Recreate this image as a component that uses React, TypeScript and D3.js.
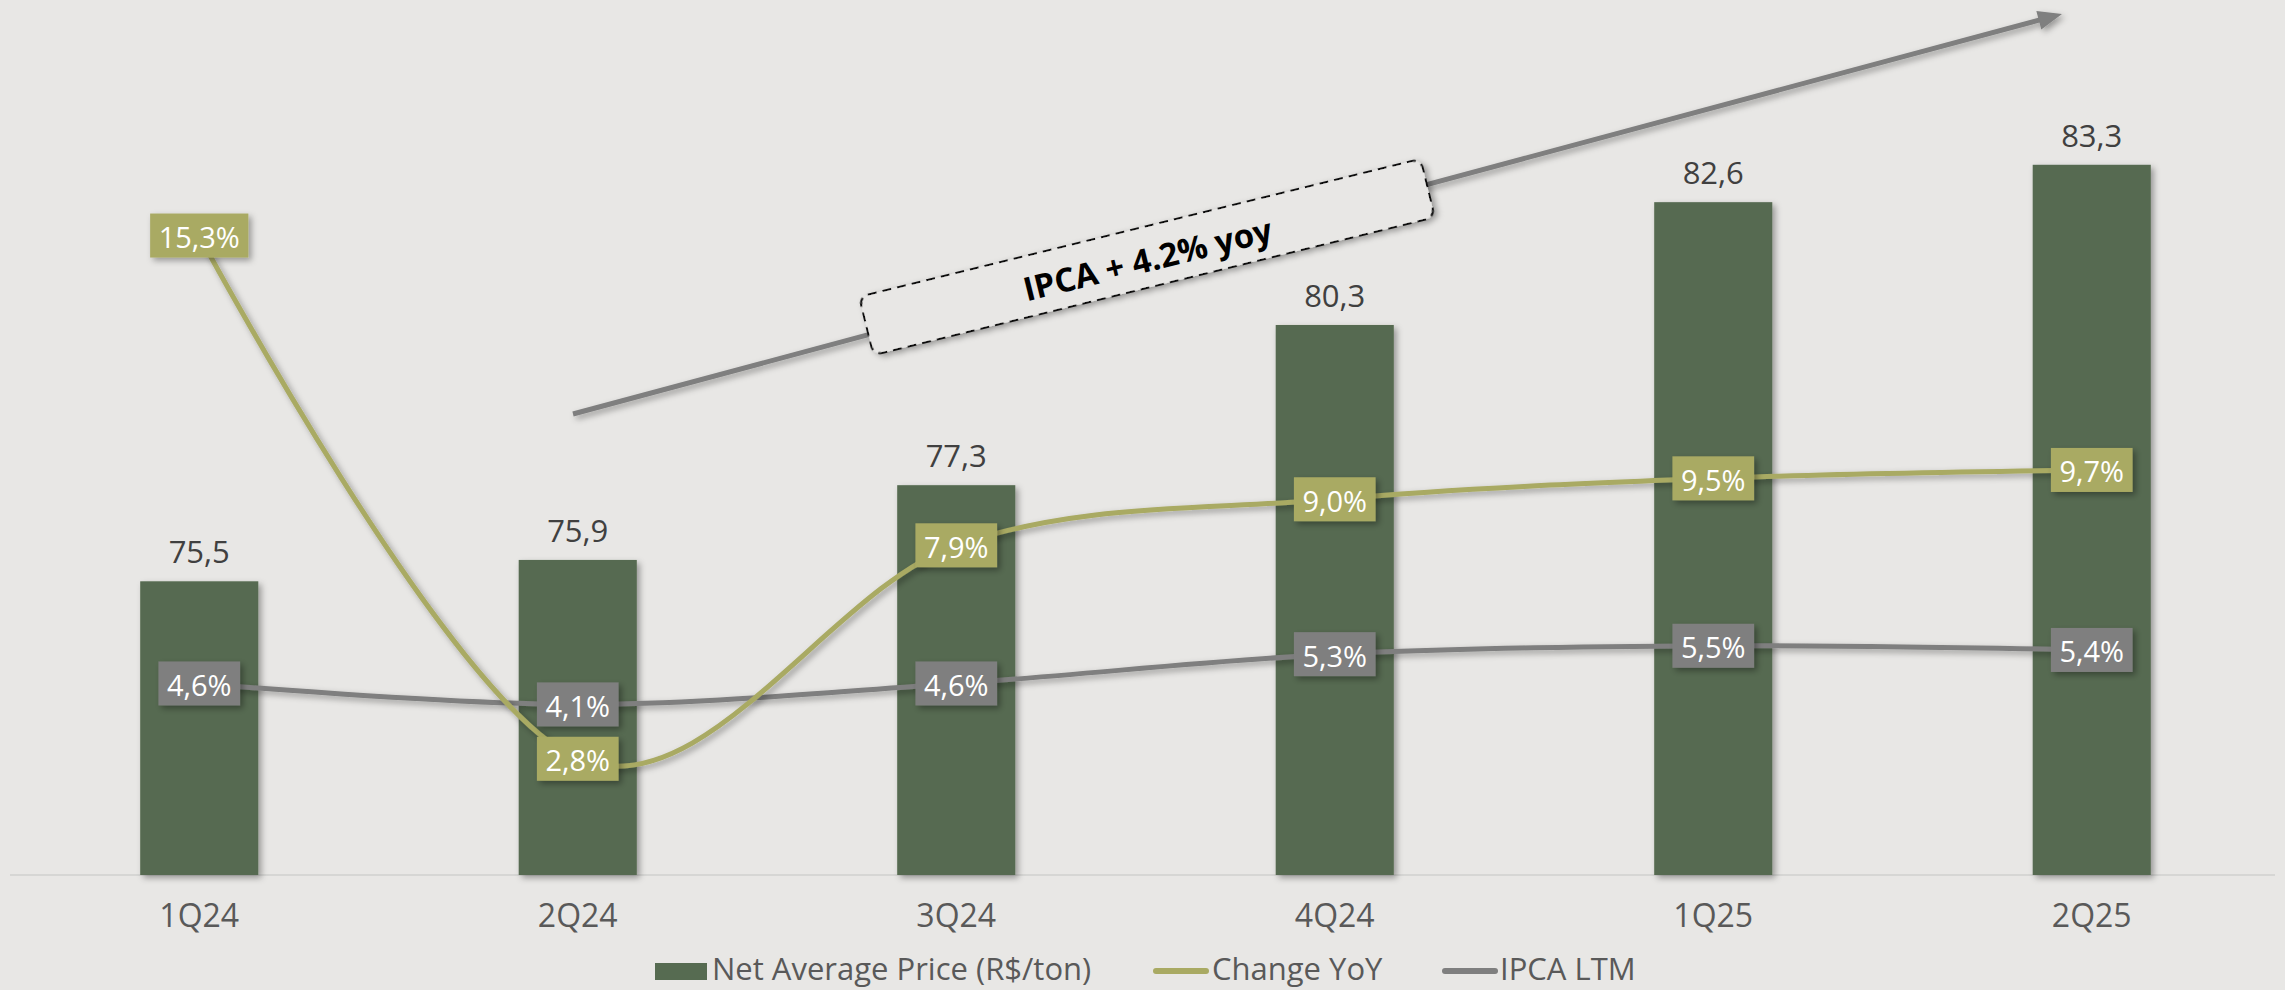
import React, { useEffect, useRef } from "react";
import * as d3 from "d3";

const categories = ["1Q24", "2Q24", "3Q24", "4Q24", "1Q25", "2Q25"];
const netAvgPrice = [75.5, 75.9, 77.3, 80.3, 82.6, 83.3];
const changeYoY = [15.3, 2.8, 7.9, 9.0, 9.5, 9.7];
const ipcaLTM = [4.6, 4.1, 4.6, 5.3, 5.5, 5.4];
const legendLabels = ["Net Average Price (R$/ton)", "Change YoY", "IPCA LTM"];
const annotationText = "IPCA + 4.2% yoy";

const W = 2285;
const H = 990;
const BG = "#E8E7E5";
const BAR = "#566B51";
const OLIVE = "#A9AA63";
const GRAY = "#7F7F7F";
const FONT = "'Open Sans', sans-serif";

const fmt1 = (v: number) => v.toFixed(1).replace(".", ",");

export default function App() {
  const ref = useRef<SVGSVGElement | null>(null);

  useEffect(() => {
    const svg = d3.select(ref.current);
    svg.selectAll("*").remove();

    const defs = svg.append("defs");
    const f = defs
      .append("filter")
      .attr("id", "sh")
      .attr("x", "-20%")
      .attr("y", "-20%")
      .attr("width", "140%")
      .attr("height", "140%");
    f.append("feDropShadow")
      .attr("dx", 3)
      .attr("dy", 3)
      .attr("stdDeviation", 3)
      .attr("flood-color", "#000")
      .attr("flood-opacity", 0.35);

    svg.append("rect").attr("width", W).attr("height", H).attr("fill", BG);

    const baseline = 875;
    const x = d3
      .scaleBand<string>()
      .domain(categories)
      .range([10, 2281])
      .paddingInner(0.688)
      .paddingOuter(0.344);
    const cx = (c: string) => (x(c) as number) + x.bandwidth() / 2;
    const yBar = d3.scaleLinear().domain([70, 86]).range([baseline, baseline - 16 * 53.4]);
    const yPct = d3.scaleLinear().domain([0, 20]).range([876, 876 - 20 * 41.86]);

    // axis line
    svg
      .append("line")
      .attr("x1", 10)
      .attr("x2", 2275)
      .attr("y1", baseline)
      .attr("y2", baseline)
      .attr("stroke", "#D6D6D4")
      .attr("stroke-width", 2);

    // bars
    svg
      .append("g")
      .selectAll("rect")
      .data(netAvgPrice)
      .join("rect")
      .attr("x", (_, i) => x(categories[i]) as number)
      .attr("width", x.bandwidth())
      .attr("y", (d) => yBar(d))
      .attr("height", (d) => baseline - yBar(d))
      .attr("fill", BAR)
      .attr("filter", "url(#sh)");

    // bar value labels
    svg
      .append("g")
      .selectAll("text")
      .data(netAvgPrice)
      .join("text")
      .attr("x", (_, i) => cx(categories[i]))
      .attr("y", (d) => yBar(d) - 18)
      .attr("text-anchor", "middle")
      .attr("font-family", FONT)
      .attr("font-size", 31)
      .attr("fill", "#404040")
      .text((d) => fmt1(d));

    // category labels
    svg
      .append("g")
      .selectAll("text")
      .data(categories)
      .join("text")
      .attr("x", (d) => cx(d))
      .attr("y", 927)
      .attr("text-anchor", "middle")
      .attr("font-family", FONT)
      .attr("font-size", 32)
      .attr("fill", "#595959")
      .text((d) => d);

    // arrow annotation
    const a0 = [573, 414];
    const a1 = [2062, 14];
    const dx = a1[0] - a0[0];
    const dy = a1[1] - a0[1];
    const len = Math.hypot(dx, dy);
    const ux = dx / len;
    const uy = dy / len;
    const nx = -uy;
    const ny = ux;
    const hl = 24;
    const hw = 9.5;
    const bx = a1[0] - hl * ux;
    const by = a1[1] - hl * uy;
    const ag = svg.append("g").attr("filter", "url(#sh)");
    ag.append("line")
      .attr("x1", a0[0])
      .attr("y1", a0[1])
      .attr("x2", bx + 2 * ux)
      .attr("y2", by + 2 * uy)
      .attr("stroke", GRAY)
      .attr("stroke-width", 5);
    ag.append("polygon")
      .attr(
        "points",
        [
          [a1[0], a1[1]],
          [bx + hw * nx, by + hw * ny],
          [bx - hw * nx, by - hw * ny],
        ]
          .map((p) => p.join(","))
          .join(" ")
      )
      .attr("fill", GRAY);

    // dashed callout
    const cg = svg.append("g").attr("transform", "translate(1147,257) rotate(-13.8)");
    cg.append("rect")
      .attr("x", -289)
      .attr("y", -30)
      .attr("width", 578)
      .attr("height", 60)
      .attr("rx", 9)
      .attr("fill", BG)
      .attr("stroke", "#111")
      .attr("stroke-width", 2)
      .attr("stroke-dasharray", "9 6")
      .attr("filter", "url(#sh)");
    cg.append("text")
      .attr("x", 0)
      .attr("y", 2)
      .attr("text-anchor", "middle")
      .attr("dominant-baseline", "central")
      .attr("font-family", FONT)
      .attr("font-weight", 700)
      .attr("font-size", 33)
      .attr("fill", "#000")
      .text(annotationText);

    // lines
    const line = d3
      .line<number>()
      .x((_, i) => cx(categories[i]))
      .y((d) => yPct(d))
      .curve(d3.curveCatmullRom.alpha(0));

    const series = [
      { data: ipcaLTM, color: GRAY },
      { data: changeYoY, color: OLIVE },
    ];
    series.forEach((s) => {
      svg
        .append("path")
        .datum(s.data)
        .attr("d", line)
        .attr("fill", "none")
        .attr("stroke", s.color)
        .attr("stroke-width", 5)
        .attr("filter", "url(#sh)");
    });

    // label boxes
    series.forEach((s) => {
      const g = svg.append("g");
      s.data.forEach((v, i) => {
        const px = cx(categories[i]);
        const py = yPct(v);
        const lg = g.append("g");
        const r = lg.append("rect").attr("fill", s.color).attr("filter", "url(#sh)");
        const t = lg
          .append("text")
          .attr("x", px)
          .attr("y", py + 1)
          .attr("text-anchor", "middle")
          .attr("dominant-baseline", "central")
          .attr("font-family", FONT)
          .attr("font-size", 29)
          .attr("fill", "#fff")
          .text(fmt1(v) + "%");
        const tw = (t.node() as SVGTextElement).getComputedTextLength();
        const bw = tw + 17;
        r.attr("x", px - bw / 2)
          .attr("y", py - 22)
          .attr("width", bw)
          .attr("height", 44);
      });
    });

    // legend
    const lgd = svg.append("g").attr("font-family", FONT).attr("font-size", 31).attr("fill", "#595959");
    lgd.append("rect").attr("x", 655).attr("y", 963).attr("width", 52).attr("height", 17).attr("fill", BAR);
    lgd.append("text").attr("x", 712).attr("y", 980).text(legendLabels[0]);
    lgd.append("line")
      .attr("x1", 1156).attr("x2", 1206).attr("y1", 971).attr("y2", 971)
      .attr("stroke", OLIVE).attr("stroke-width", 6).attr("stroke-linecap", "round");
    lgd.append("text").attr("x", 1212).attr("y", 980).text(legendLabels[1]);
    lgd.append("line")
      .attr("x1", 1445).attr("x2", 1495).attr("y1", 971).attr("y2", 971)
      .attr("stroke", GRAY).attr("stroke-width", 6).attr("stroke-linecap", "round");
    lgd.append("text").attr("x", 1500).attr("y", 980).text(legendLabels[2]);
  }, []);

  return (
    <svg
      ref={ref}
      width={W}
      height={H}
      style={{ position: "absolute", left: 0, top: 0, display: "block" }}
    />
  );
}
